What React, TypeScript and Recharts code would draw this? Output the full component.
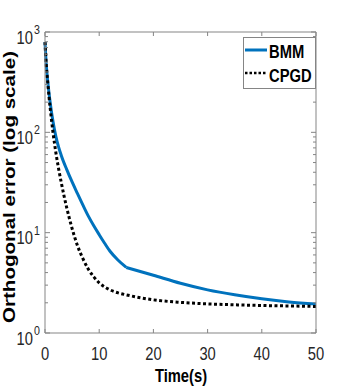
import { LineChart, Line, XAxis, YAxis, Legend } from 'recharts'

// time axis (s)
const times = [
  0, 0.25, 0.5, 0.75, 1, 1.5, 2, 2.5, 3, 4, 5, 6, 7, 8, 9, 10, 11, 12, 13.5, 15,
  20, 25, 30, 35, 40, 45, 50,
]
// orthogonal error
const bmm = [
  794, 457, 324, 243, 190, 126, 91.2, 71.6, 58.9, 42.7, 32, 24.5, 18.8,
  14.6, 11.7, 9.55, 7.85, 6.53, 5.31, 4.5,
  3.76, 3.13, 2.69, 2.4, 2.19, 2.04, 1.95,
]
const cpgd = [
  794, 457, 316, 224, 166, 97.7, 63.1, 43.7, 31.6, 17.8, 11, 7.41, 5.5,
  4.32, 3.63, 3.16, 2.88, 2.69, 2.51, 2.4,
  2.14, 2.02, 1.95, 1.91, 1.88, 1.86, 1.84,
]
// BMM changes regime here (sharp corner in the curve)
const bmmSwitch = 15

const xTicks = [0, 10, 20, 30, 40, 50]
const yMajor = [1, 10, 100, 1000]
const yTicks = [
  1, 2, 3, 4, 5, 6, 7, 8, 9,
  10, 20, 30, 40, 50, 60, 70, 80, 90,
  100, 200, 300, 400, 500, 600, 700, 800, 900, 1000,
]

const data = times.map((t, i) => ({
  t,
  bmmA: t <= bmmSwitch ? bmm[i] : null,
  bmmB: t >= bmmSwitch ? bmm[i] : null,
  cpgd: cpgd[i],
}))

const AXIS = '#858585'
const BLUE = '#0072BD'
const FONT = '"Liberation Sans", Arial, sans-serif'

// the source figure is squeezed horizontally, so horizontal text is narrowed
const NText = ({ x, y, size, anchor = 'start', bold = false, fill = '#262626', children }: any) => (
  <text
    transform={`translate(${x},${y}) scale(0.82,1)`}
    textAnchor={anchor}
    fontSize={size}
    fontWeight={bold ? 'bold' : 'normal'}
    fontFamily={FONT}
    fill={fill}
  >
    {children}
  </text>
)

const BottomTick = ({ x, y, payload }: any) => (
  <g>
    <line x1={x} x2={x} y1={y} y2={y - 4} stroke={AXIS} />
    <NText x={x} y={y + 27} size={18} anchor="middle">{payload.value}</NText>
  </g>
)

const TopTick = ({ x, y }: any) => <line x1={x} x2={x} y1={y} y2={y + 4} stroke={AXIS} />

const LeftTick = ({ x, y, payload }: any) => {
  const major = yMajor.includes(payload.value)
  return (
    <g>
      <line x1={x} x2={x + (major ? 5 : 3)} y1={y} y2={y} stroke={AXIS} />
      {major && (
        <g>
          <NText x={x - 12} y={y + 11.5} size={18} anchor="end">10</NText>
          <NText x={x - 11} y={y + 2} size={13}>{Math.round(Math.log10(payload.value))}</NText>
        </g>
      )}
    </g>
  )
}

const RightTick = ({ x, y, payload }: any) => {
  const major = yMajor.includes(payload.value)
  return <line x1={x} x2={x - (major ? 5 : 3)} y1={y} y2={y} stroke={AXIS} />
}

const LegendBox = () => (
  <div style={{ width: 73, height: 52, border: `1px solid ${AXIS}`, background: '#fff', boxSizing: 'border-box' }}>
    <svg width={71} height={50} style={{ display: 'block' }}>
      <line x1={1} x2={23} y1={12} y2={12} stroke={BLUE} strokeWidth={3} />
      <NText x={25} y={20} size={18} bold fill="#000">BMM</NText>
      <line x1={1} x2={23} y1={35} y2={35} stroke="#000" strokeWidth={2.5} strokeDasharray="2.5 2" />
      <NText x={25} y={44} size={18} bold fill="#000">CPGD</NText>
    </svg>
  </div>
)

export default function App() {
  return (
    <div style={{ position: 'absolute', left: 0, top: 0, width: 349, height: 388, background: '#fff' }}>
      <LineChart width={349} height={388} data={data} margin={{ top: 31, right: 32, left: 0, bottom: 0 }}>
        <XAxis
          xAxisId="b"
          dataKey="t"
          type="number"
          domain={[0, 50]}
          ticks={xTicks}
          interval={0}
          height={55}
          tickSize={0}
          tickMargin={0}
          tickLine={false}
          axisLine={{ stroke: AXIS }}
          tick={<BottomTick />}
          label={{
            content: () => (
              <NText x={181} y={382} size={18} anchor="middle" bold fill="#000">Time(s)</NText>
            ),
          }}
        />
        <XAxis
          xAxisId="t"
          orientation="top"
          dataKey="t"
          type="number"
          domain={[0, 50]}
          ticks={xTicks}
          interval={0}
          height={1}
          tickSize={0}
          tickMargin={0}
          tickLine={false}
          axisLine={{ stroke: AXIS }}
          tick={<TopTick />}
        />
        <YAxis
          yAxisId="l"
          scale="log"
          domain={[1, 1000]}
          allowDataOverflow
          ticks={yTicks}
          interval={0}
          width={45}
          tickSize={0}
          tickMargin={0}
          tickLine={false}
          axisLine={{ stroke: AXIS }}
          tick={<LeftTick />}
          label={{
            content: () => (
              <text
                transform="translate(15,187) rotate(-90)"
                textAnchor="middle"
                fontSize={17}
                fontWeight="bold"
                fontFamily={FONT}
                textLength={272}
                lengthAdjust="spacingAndGlyphs"
                fill="#000"
              >
                Orthogonal error (log scale)
              </text>
            ),
          }}
        />
        <YAxis
          yAxisId="r"
          orientation="right"
          scale="log"
          domain={[1, 1000]}
          allowDataOverflow
          ticks={yTicks}
          interval={0}
          width={1}
          tickSize={0}
          tickMargin={0}
          tickLine={false}
          axisLine={{ stroke: AXIS }}
          tick={<RightTick />}
        />
        <Legend
          layout="vertical"
          align="center"
          verticalAlign="middle"
          content={<LegendBox />}
          wrapperStyle={{ position: 'absolute', left: 243, top: 37, width: 73, height: 52 }}
        />
        <Line
          xAxisId="b"
          yAxisId="l"
          type="monotone"
          dataKey="bmmA"
          name="BMM"
          stroke={BLUE}
          strokeWidth={3}
          dot={false}
          isAnimationActive={false}
        />
        <Line
          xAxisId="b"
          yAxisId="l"
          type="monotone"
          dataKey="bmmB"
          name="BMM"
          stroke={BLUE}
          strokeWidth={3}
          dot={false}
          legendType="none"
          isAnimationActive={false}
        />
        <Line
          xAxisId="b"
          yAxisId="l"
          type="monotone"
          dataKey="cpgd"
          name="CPGD"
          stroke="#000"
          strokeWidth={3}
          strokeDasharray="3 2.5"
          dot={false}
          isAnimationActive={false}
        />
      </LineChart>
    </div>
  )
}
